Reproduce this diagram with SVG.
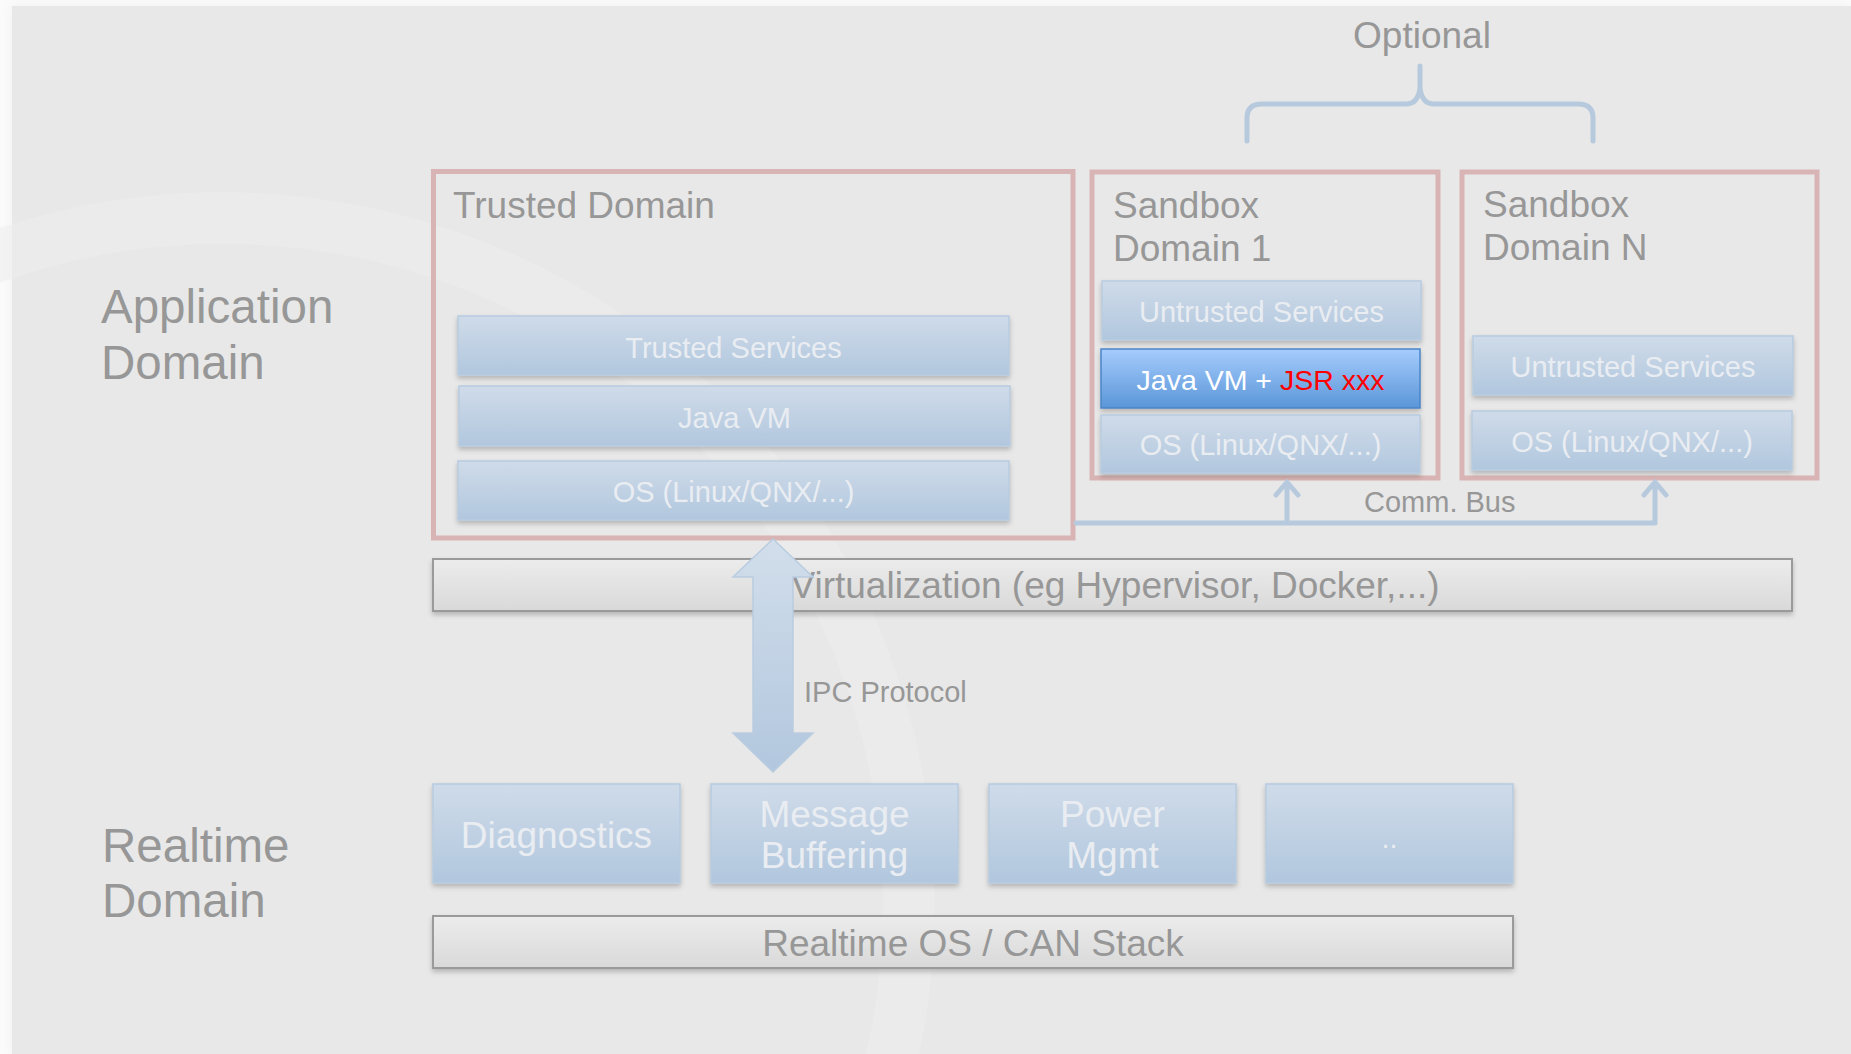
<svg xmlns="http://www.w3.org/2000/svg" width="1851" height="1054" viewBox="0 0 1851 1054">
  <defs>
    <linearGradient id="gBlue" x1="0" y1="0" x2="0" y2="1">
      <stop offset="0" stop-color="#cfdbe9"/>
      <stop offset="1" stop-color="#b1c7de"/>
    </linearGradient>
    <linearGradient id="gJava" x1="0" y1="0" x2="0" y2="1">
      <stop offset="0" stop-color="#a6ccfd"/>
      <stop offset="1" stop-color="#5a96d8"/>
    </linearGradient>
    <linearGradient id="gBar" x1="0" y1="0" x2="0" y2="1">
      <stop offset="0" stop-color="#ececec"/>
      <stop offset="1" stop-color="#d9d9d9"/>
    </linearGradient>
    <linearGradient id="gArrow" x1="0" y1="0" x2="0" y2="1">
      <stop offset="0" stop-color="#d2deeb"/>
      <stop offset="1" stop-color="#b2c7de"/>
    </linearGradient>
    <filter id="shadow" x="-5%" y="-20%" width="110%" height="150%">
      <feDropShadow dx="0" dy="3" stdDeviation="2.5" flood-color="#000" flood-opacity="0.22"/>
    </filter>
    <filter id="soft" x="-5%" y="-5%" width="110%" height="110%">
      <feGaussianBlur stdDeviation="6"/>
    </filter>
    <style>
      text { font-family: "Liberation Sans", Arial, Helvetica, sans-serif; }
      .domain { font-size: 47.5px; fill: #979797; }
      .title { font-size: 37px; fill: #979797; }
      .label { font-size: 29px; fill: #979797; }
      .layer { fill: url(#gBlue); stroke: #b8cbe0; stroke-width: 1.5; filter: url(#shadow); }
      .ltext { font-size: 29px; fill: #e9edf2; text-anchor: middle; }
      .rtext { font-size: 37px; fill: #e9edf2; text-anchor: middle; }
      .frame { fill: none; stroke: #d9b4b4; stroke-width: 5; }
      .bar { fill: url(#gBar); stroke: #9a9a9a; stroke-width: 2; filter: url(#shadow); }
      .btext { font-size: 37px; fill: #979797; text-anchor: middle; }
      .bus { fill: none; stroke: #b6c9dd; stroke-width: 5; stroke-linecap: round; stroke-linejoin: round; }
    </style>
  </defs>

  <!-- page -->
  <rect x="0" y="0" width="1851" height="1054" fill="#fbfbfb"/>
  <rect x="12" y="6" width="1839" height="1048" fill="#e8e8e8" filter="url(#soft)" opacity="0.6"/>
  <rect x="12" y="6" width="1839" height="1048" fill="#e8e8e8"/>
  <!-- faint background swoosh -->
  <circle cx="223" cy="904" r="686" fill="none" stroke="#ededed" stroke-width="52" opacity="0.55"/>

  <!-- domain labels -->
  <g id="application-domain">
    <text class="domain" x="101" y="323">Application</text>
    <text class="domain" x="101" y="379">Domain</text>
  </g>
  <g id="realtime-domain">
    <text class="domain" x="102" y="862">Realtime</text>
    <text class="domain" x="102" y="917">Domain</text>
  </g>

  <!-- separator between domains -->
  <line x1="82" y1="657" x2="1792" y2="657" stroke="#d2d2d2" stroke-width="6" filter="url(#shadow)"/>

  <!-- optional brace -->
  <g id="optional">
    <text class="title" x="1422" y="48" text-anchor="middle">Optional</text>
    <path class="bus" d="M1247,141 L1247,118 Q1247,104 1262,104 L1406,104 Q1418,104 1420,88 L1420,66 M1420,88 Q1422,104 1434,104 L1578,104 Q1593,104 1593,118 L1593,141"/>
  </g>

  <!-- trusted domain -->
  <g id="trusted-domain">
    <rect class="frame" x="433.5" y="171.5" width="639.5" height="366.5"/>
    <text class="title" x="453" y="218">Trusted Domain</text>
  </g>
  <g id="trusted-services">
    <rect class="layer" x="458" y="316" width="551" height="59"/>
    <text class="ltext" x="733.5" y="358">Trusted Services</text>
  </g>
  <g id="trusted-javavm">
    <rect class="layer" x="459" y="386" width="551" height="60"/>
    <text class="ltext" x="734.5" y="428">Java VM</text>
  </g>
  <g id="trusted-os">
    <rect class="layer" x="458" y="461" width="551" height="59"/>
    <text class="ltext" x="733.5" y="502">OS (Linux/QNX/...)</text>
  </g>

  <!-- sandbox domain 1 -->
  <g id="sandbox-1">
    <rect class="frame" x="1092" y="172" width="346" height="306"/>
    <text class="title" x="1113" y="218">Sandbox</text>
    <text class="title" x="1113" y="261">Domain 1</text>
  </g>
  <g id="sandbox-1-services">
    <rect class="layer" x="1102" y="281" width="319" height="59"/>
    <text class="ltext" x="1261.5" y="322">Untrusted Services</text>
  </g>
  <g id="sandbox-1-javavm">
    <rect x="1101" y="349" width="319" height="59" fill="url(#gJava)" stroke="#4a85c7" stroke-width="1.5" filter="url(#shadow)"/>
    <text x="1260.5" y="390" font-size="28.5" text-anchor="middle"><tspan fill="#ffffff">Java VM + </tspan><tspan fill="#ff0000">JSR xxx</tspan></text>
  </g>
  <g id="sandbox-1-os">
    <rect class="layer" x="1101" y="415" width="319" height="58"/>
    <text class="ltext" x="1260.5" y="455">OS (Linux/QNX/...)</text>
  </g>

  <!-- sandbox domain N -->
  <g id="sandbox-n">
    <rect class="frame" x="1462" y="172" width="355" height="306"/>
    <text class="title" x="1483" y="217">Sandbox</text>
    <text class="title" x="1483" y="260">Domain N</text>
  </g>
  <g id="sandbox-n-services">
    <rect class="layer" x="1473" y="336" width="320" height="59"/>
    <text class="ltext" x="1633" y="377">Untrusted Services</text>
  </g>
  <g id="sandbox-n-os">
    <rect class="layer" x="1472" y="411" width="320" height="59"/>
    <text class="ltext" x="1632" y="452">OS (Linux/QNX/...)</text>
  </g>

  <!-- virtualization layer -->
  <g id="virtualization">
    <rect class="bar" x="433" y="559" width="1359" height="52"/>
    <text class="btext" x="1115" y="598">Virtualization (eg Hypervisor, Docker,...)</text>
  </g>

  <!-- realtime components -->
  <g id="diagnostics">
    <rect class="layer" x="433" y="784" width="247" height="99"/>
    <text class="rtext" x="556.5" y="848">Diagnostics</text>
  </g>
  <g id="message-buffering">
    <rect class="layer" x="711" y="784" width="247" height="99"/>
    <text class="rtext" x="834.5" y="827">Message</text>
    <text class="rtext" x="834.5" y="868">Buffering</text>
  </g>
  <g id="power-mgmt">
    <rect class="layer" x="989" y="784" width="247" height="99"/>
    <text class="rtext" x="1112.5" y="827">Power</text>
    <text class="rtext" x="1112.5" y="868">Mgmt</text>
  </g>
  <g id="more">
    <rect class="layer" x="1266" y="784" width="247" height="99"/>
    <text class="ltext" x="1389.5" y="848">..</text>
  </g>
  <g id="realtime-os">
    <rect class="bar" x="433" y="916" width="1080" height="52"/>
    <text class="btext" x="973" y="956">Realtime OS / CAN Stack</text>
  </g>

  <!-- connectors -->
  <g id="connectors">
    <!-- comm bus -->
    <path class="bus" d="M1076,523 L1655,523 M1287,523 L1287,482 M1276,495 L1287,482 L1298,495 M1655,523 L1655,482 M1644,495 L1655,482 L1666,495"/>
    <text class="label" x="1364" y="512" font-size="28">Comm. Bus</text>
    <!-- IPC double arrow -->
    <path d="M773,539 L813,577 L793,577 L793,733 L813,733 L773,772 L733,733 L753,733 L753,577 L733,577 Z" fill="url(#gArrow)" stroke="#b9cce0" stroke-width="1.5"/>
    <text class="label" x="804" y="702">IPC Protocol</text>
  </g>
</svg>
